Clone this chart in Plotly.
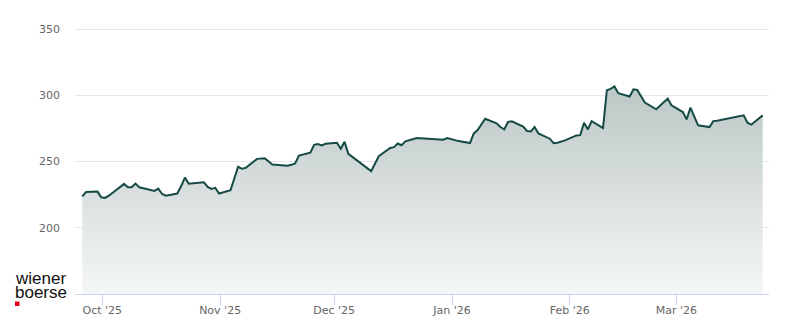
import plotly.graph_objects as go

dates = [
    "2025-09-25", "2025-09-26", "2025-09-29", "2025-09-30", "2025-10-01", "2025-10-02",
    "2025-10-06", "2025-10-07", "2025-10-08", "2025-10-09", "2025-10-10", "2025-10-14",
    "2025-10-15", "2025-10-16", "2025-10-17", "2025-10-20", "2025-10-21", "2025-10-22",
    "2025-10-23", "2025-10-24", "2025-10-27", "2025-10-28", "2025-10-29", "2025-10-30",
    "2025-10-31", "2025-11-03", "2025-11-05", "2025-11-06", "2025-11-07", "2025-11-10",
    "2025-11-11", "2025-11-12", "2025-11-14", "2025-11-17", "2025-11-18", "2025-11-19",
    "2025-11-20", "2025-11-21", "2025-11-24", "2025-11-25", "2025-11-26", "2025-11-27",
    "2025-11-28", "2025-12-01", "2025-12-02", "2025-12-03", "2025-12-04", "2025-12-10",
    "2025-12-12", "2025-12-15", "2025-12-16", "2025-12-17", "2025-12-18", "2025-12-19",
    "2025-12-22", "2025-12-29", "2025-12-30", "2026-01-02", "2026-01-05", "2026-01-06",
    "2026-01-07", "2026-01-09", "2026-01-12", "2026-01-13", "2026-01-14", "2026-01-15",
    "2026-01-16", "2026-01-19", "2026-01-20", "2026-01-21", "2026-01-22", "2026-01-23",
    "2026-01-26", "2026-01-27", "2026-01-28", "2026-01-30", "2026-02-02", "2026-02-03",
    "2026-02-04", "2026-02-05", "2026-02-06", "2026-02-09", "2026-02-10", "2026-02-11",
    "2026-02-12", "2026-02-13", "2026-02-16", "2026-02-17", "2026-02-18", "2026-02-20",
    "2026-02-23", "2026-02-26", "2026-02-27", "2026-03-02", "2026-03-03", "2026-03-04",
    "2026-03-06", "2026-03-09", "2026-03-10", "2026-03-11", "2026-03-18", "2026-03-19",
    "2026-03-20", "2026-03-23",
]
prices = [
    223.7, 227.0, 227.3, 223.0, 222.5, 224.2,
    233.1, 230.5, 230.5, 233.3, 230.5, 227.8,
    229.5, 225.5, 224.2, 225.8, 231.3, 237.9,
    233.3, 233.6, 234.3, 230.8, 229.3, 230.1,
    225.8, 228.3, 246.0, 244.5, 245.2, 252.0,
    252.0, 252.5, 247.7, 247.0, 246.8, 247.5,
    248.6, 254.5, 256.6, 262.6, 263.1, 262.1,
    263.4, 264.2, 259.6, 264.9, 255.8, 242.7,
    254.0, 260.2, 260.8, 263.6, 262.3, 265.2,
    267.7, 266.4, 267.7, 265.4, 263.9, 271.2,
    273.7, 282.3, 278.8, 276.0, 274.2, 279.8,
    280.3, 276.3, 273.0, 272.7, 276.0, 271.2,
    267.2, 263.9, 264.2, 265.9, 269.7, 269.9,
    279.3, 274.2, 280.5, 275.2, 303.8, 304.8,
    306.6, 301.5, 299.0, 304.5, 304.0, 294.5,
    289.4, 297.5, 292.4, 287.3, 281.8, 290.7,
    277.3, 276.0, 280.5, 280.8, 284.8, 279.3,
    277.8, 284.8,
]
close_time = " 17:30"
month_ticks = ["2025-10-01", "2025-11-01", "2025-12-01", "2026-01-01", "2026-02-01", "2026-03-01"]
month_labels = ["Oct '25", "Nov '25", "Dec '25", "Jan '26", "Feb '26", "Mar '26"]
y_ticks = [200, 250, 300, 350]

W, H = 800, 324
ML, MR, MT, MB = 75, 31, 22, 30
plot_w = W - ML - MR
plot_h = H - MT - MB
px_per_unit = 1.325
y_lo = 150
y_hi = y_lo + plot_h / px_per_unit

x_times = [d + close_time for d in dates]

fig = go.Figure()
fig.add_trace(go.Scatter(
    x=x_times, y=prices, mode="lines",
    line=dict(color="#164b45", width=2),
    fill="tozeroy",
    fillgradient=dict(
        type="vertical",
        colorscale=[[0, "#f5f7f7"], [1, "#bcc7c6"]],
        start=y_lo, stop=max(prices),
    ),
    hoverinfo="skip",
    showlegend=False,
))

fig.update_layout(
    width=W, height=H,
    margin=dict(l=ML, r=MR, t=MT, b=MB, autoexpand=False),
    paper_bgcolor="white", plot_bgcolor="white",
    font=dict(family="DejaVu Sans", size=11, color="#666666"),
    xaxis=dict(
        type="date", automargin=False,
        range=["2025-09-23 19:38", "2026-03-25 09:21"],
        tickvals=month_ticks, ticktext=month_labels,
        showgrid=False, zeroline=False,
        showline=True, linecolor="#ccd6eb", linewidth=1,
        ticks="outside", ticklen=10, tickcolor="#ccd6eb", tickwidth=1,
        ticklabelstandoff=-4,
        tickfont=dict(family="DejaVu Sans", size=11, color="#666666"),
    ),
    yaxis=dict(
        range=[y_lo, y_hi], automargin=False,
        tickvals=y_ticks,
        showgrid=True, gridcolor="#e6e6e6", gridwidth=1,
        zeroline=False, showline=False, ticks="",
        ticklabelstandoff=14,
        tickfont=dict(family="DejaVu Sans", size=11, color="#666666"),
    ),
)

def px_x(p):
    return (p - ML) / plot_w

def px_y(p):
    return (H - MB - p) / plot_h

for txt, cy in (("wiener", 278.5), ("boerse", 292.5)):
    fig.add_annotation(
        text=txt, xref="paper", yref="paper",
        x=px_x(14), y=px_y(cy), xanchor="left", yanchor="middle",
        showarrow=False, borderpad=0,
        font=dict(family="Liberation Sans, Arial", size=17, color="#111111"),
    )

fig.add_shape(
    type="rect", xref="paper", yref="paper",
    x0=px_x(15), x1=px_x(19.5), y0=px_y(306), y1=px_y(301.5),
    fillcolor="#e2001a", line=dict(width=0),
)

fig.write_html("out.html")
